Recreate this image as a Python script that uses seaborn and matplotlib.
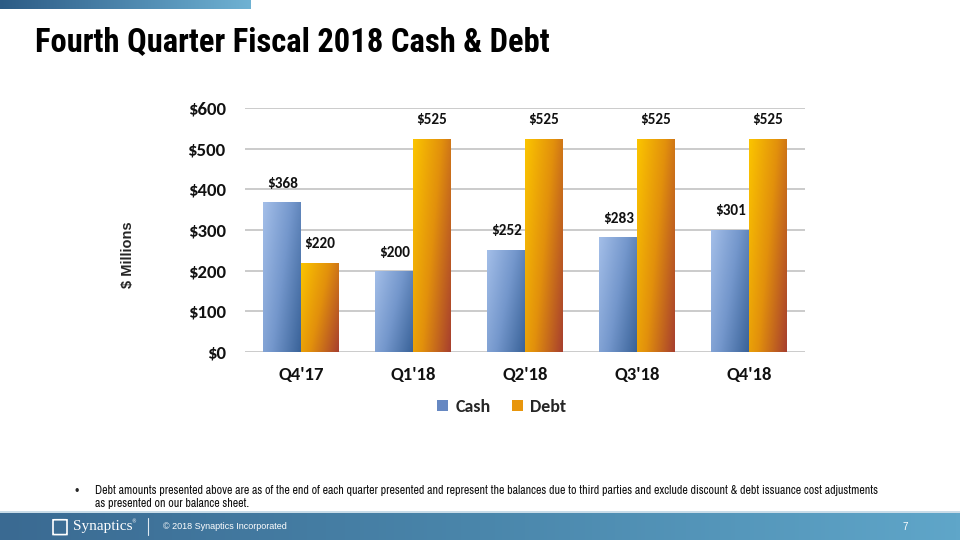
import numpy as np
import pandas as pd
import matplotlib
matplotlib.use("Agg")
import matplotlib.pyplot as plt
import seaborn as sns
from matplotlib.colors import LinearSegmentedColormap
from matplotlib.patches import Patch, FancyBboxPatch

quarters = ["Q4'17", "Q1'18", "Q2'18", "Q3'18", "Q4'18"]
cash = [368, 200, 252, 283, 301]
debt = [220, 525, 525, 525, 525]
series = ["Cash", "Debt"]
yticks = [0, 100, 200, 300, 400, 500, 600]
title = "Fourth Quarter Fiscal 2018 Cash & Debt"
footnote = ("Debt amounts presented above are as of the end of each quarter presented and represent the balances due to third parties and exclude discount & debt issuance cost adjustments\n"
            "as presented on our balance sheet.")

df = pd.DataFrame({
    "Quarter": quarters * 2,
    "Series": ["Cash"] * len(quarters) + ["Debt"] * len(quarters),
    "Value": cash + debt,
})

sns.set_theme(style="white")
label_font = ["Carlito", "Lato", "DejaVu Sans"]
title_font = ["Roboto Condensed", "Asap Condensed", "Liberation Sans", "DejaVu Sans"]
narrow_font = ["Archivo Narrow", "Roboto Condensed", "Liberation Sans", "DejaVu Sans"]

fig = plt.figure(figsize=(9.6, 5.4), dpi=100)
ax = fig.add_axes([245 / 960, 1 - 352 / 540, 560 / 960, 244 / 540])

palette = {"Cash": "#5b82bd", "Debt": "#e0900a"}
sns.barplot(data=df, x="Quarter", y="Value", hue="Series", order=quarters,
            hue_order=series, palette=palette, width=0.67, ax=ax,
            saturation=1, legend=False, edgecolor="none", zorder=2)

ax.set_ylim(0, 600)
ax.set_xlim(-0.5, len(quarters) - 0.5)
ax.set_yticks(yticks)
ax.set_yticklabels([f"${v}" for v in yticks], fontsize=13.5, fontweight="bold",
                   family=label_font, color="#111111")
ax.set_xticks(range(len(quarters)))
ax.set_xticklabels(quarters, fontsize=13.5, fontweight="bold", family=label_font,
                   color="#111111")
ax.tick_params(axis="y", length=0, pad=14)
ax.tick_params(axis="x", length=0, pad=11)
ax.set_xlabel("")
ax.set_ylabel("")
for s in ax.spines.values():
    s.set_visible(False)
ax.yaxis.grid(True, color="#bdbdbd", linewidth=1.1, zorder=0)
ax.set_axisbelow(True)

# gradient fills
cmaps = {
    "Cash": LinearSegmentedColormap.from_list("c", ["#a3bee8", "#7497cc", "#3a6399"]),
    "Debt": LinearSegmentedColormap.from_list("d", ["#fbc400", "#e2900c", "#a8402e"]),
}
gx, gy = np.meshgrid(np.linspace(0, 1, 40), np.linspace(0, 1, 80))
grad = 0.65 * gx + 0.35 * (1 - gy)
for container, name in zip(ax.containers, series):
    for patch in container:
        x0 = patch.get_x()
        w = patch.get_width()
        h = patch.get_height()
        im = ax.imshow(grad, cmap=cmaps[name], extent=(x0, x0 + w, 0, h),
                       origin="lower", aspect="auto", zorder=3, vmin=0, vmax=1)
        im.set_clip_path(patch)
    ax.bar_label(container, labels=[f"${int(v)}" for v in container.datavalues],
                 padding=8, fontsize=11, fontweight="bold", family=label_font,
                 color="#111111", zorder=4)
ax.set_xlim(-0.5, len(quarters) - 0.5)
ax.set_ylim(0, 600)

# legend
handles = [Patch(facecolor="#6688c2", edgecolor="none"),
           Patch(facecolor="#e8960c", edgecolor="none")]
fig.legend(handles, series, loc="center", bbox_to_anchor=(502 / 960, 1 - 407 / 540),
           ncol=2, frameon=False, prop={"family": label_font, "weight": "bold", "size": 13},
           handlelength=0.6, handleheight=0.6, handletextpad=0.4, columnspacing=1.2)

# y axis label
fig.text(128 / 960, 1 - 255 / 540, "$ Millions", rotation=90, ha="center", va="center",
         fontsize=10.5, fontweight="bold", family=["Liberation Sans", "DejaVu Sans"])

# title
fig.text(35 / 960, 1 - 42 / 540, title, ha="left", va="center", fontsize=23.5,
         fontweight="bold", family=title_font, color="#000000")

# top band
band = LinearSegmentedColormap.from_list("b", ["#2c5b85", "#4d86ad", "#6fb2d3"])
tax = fig.add_axes([0, 1 - 9 / 540, 250 / 960, 9 / 540])
tax.imshow(np.linspace(0, 1, 256)[None, :], cmap=band, aspect="auto")
tax.axis("off")

# footnote
fig.text(77 / 960, 1 - 492 / 540, "•", ha="center", va="center", fontsize=9,
         family=["Liberation Sans", "DejaVu Sans"])
fig.text(95 / 960, 1 - 485 / 540, footnote, ha="left", va="top", fontsize=8.6,
         family=narrow_font, color="#111111", linespacing=1.25)

# footer
lax = fig.add_axes([0, 1 - 513 / 540, 1, 2 / 540])
lax.set_facecolor("#c9dce8")
lax.set_xticks([]); lax.set_yticks([])
for s in lax.spines.values():
    s.set_visible(False)
fband = LinearSegmentedColormap.from_list("f", ["#3a6a92", "#4a86ab", "#5fa6c9"])
fax = fig.add_axes([0, 0, 1, 27 / 540])
fax.imshow(np.linspace(0, 1, 256)[None, :], cmap=fband, aspect="auto",
           extent=(0, 1, 0, 1))
fax.set_xlim(0, 1); fax.set_ylim(0, 1)
fax.axis("off")
fax.add_patch(FancyBboxPatch((53 / 960, 0.2), 14 / 960, 0.55,
                             boxstyle="round,pad=0,rounding_size=0.004",
                             facecolor="none", edgecolor="white", lw=1.2,
                             transform=fax.transAxes))
fax.text(73 / 960, 0.5, "Synaptics", ha="left", va="center", fontsize=11,
         family=["Liberation Serif", "DejaVu Serif"], color="white")
fax.text(131 / 960, 0.66, "®", ha="left", va="center", fontsize=3.5, color="white")
fax.plot([148 / 960, 148 / 960], [0.2, 0.8], color="#dfeaf2", lw=0.8)
fax.text(163 / 960, 0.5, "© 2018 Synaptics Incorporated", ha="left", va="center",
         fontsize=6.5, family=["Liberation Sans", "DejaVu Sans"], color="white")
fax.text(905 / 960, 0.5, "7", ha="center", va="center", fontsize=7,
         family=["Liberation Sans", "DejaVu Sans"], color="white")

fig.savefig("out.png", dpi=100)
